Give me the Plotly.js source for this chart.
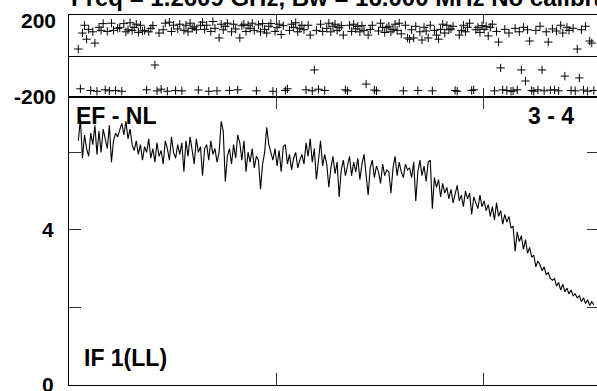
<!DOCTYPE html>
<html><head><meta charset="utf-8">
<script src="https://cdn.plot.ly/plotly-3.0.1.min.js"></script>
<style>html,body{margin:0;padding:0;overflow:hidden;background:#fff}#chart{width:600px;height:391px}</style>
</head><body><div id="chart"></div>
<script>
// channel grid
const firstChannel = 9;
const channelStep = 2;

// amplitude per channel (every 2nd channel, 9..507)
const amplitude = [
  6.3, 6.85, 5.85, 6.45, 6.1, 5.9, 6.5, 6.2, 6.7, 5.95,
  6.55, 6.0, 6.6, 6.35, 6.1, 6.7, 5.75, 6.3, 6.5, 6.4,
  6.55, 6.75, 6.45, 6.8, 6.35, 6.6, 6.2, 6.05, 6.3, 5.95,
  6.2, 5.8, 6.15, 6.0, 6.35, 5.85, 6.1, 5.75, 6.25, 5.9,
  6.05, 5.7, 6.3, 6.1, 5.8, 6.4, 6.0, 5.85, 6.2, 5.95,
  6.25, 5.5, 6.3, 5.9, 6.4, 6.05, 5.7, 6.35, 6.0, 6.15,
  5.4, 6.1, 6.2, 5.8, 6.3, 5.95, 6.1, 5.75, 6.0, 6.8,
  6.55, 5.25, 5.9, 6.1, 5.7, 6.2, 5.85, 6.45, 6.25, 5.8,
  6.3, 5.5, 6.0, 5.75, 6.1, 5.6, 5.9, 5.8, 5.05, 5.7,
  6.0, 6.65, 6.2, 6.0, 5.8, 6.1, 5.65, 6.05, 5.5, 6.15,
  6.2, 5.7, 5.95, 5.55, 5.85, 6.0, 5.6, 5.8, 5.95, 5.7,
  6.25, 5.9, 6.35, 5.75, 6.1, 5.3, 5.85, 6.3, 5.65, 5.95,
  5.7, 5.1, 5.6, 5.9, 5.45, 5.75, 4.85, 5.55, 5.8, 5.4,
  5.65, 5.9, 5.4, 5.75, 5.5, 5.85, 5.3, 5.7, 5.95, 5.45,
  4.9, 5.6, 5.8, 5.35, 5.65, 5.5, 5.2, 5.7, 5.4, 5.55,
  5.5, 4.95, 5.6, 5.9, 5.4, 5.75, 5.5, 5.35, 5.7, 5.55,
  5.6, 5.35, 5.75, 4.75, 5.5, 5.8, 5.4, 5.65, 5.25, 5.75,
  5.8, 4.55, 5.35, 5.1, 5.3, 4.85, 5.2, 4.95, 5.1, 4.8,
  5.05, 4.7, 4.95, 5.15, 4.75, 4.9, 4.6, 5.0, 4.8, 4.95,
  4.4, 4.85, 4.7, 4.55, 4.9, 4.6, 4.75, 4.5, 4.65, 4.35,
  4.6, 4.25, 4.7, 4.35, 4.5, 4.15, 4.4, 4.2, 4.35, 4.05,
  4.1, 3.45, 3.95, 3.7, 3.85, 3.5, 3.75, 3.4, 3.55, 3.3,
  3.35, 3.05, 3.2, 3.1, 2.95, 3.05, 2.85, 2.9, 2.75, 2.7,
  2.75, 2.55, 2.65, 2.45, 2.6, 2.4, 2.5, 2.35, 2.45, 2.3,
  2.35, 2.25, 2.3, 2.15, 2.25, 2.1, 2.2, 2.05, 2.15, 2.07
];

// phase per channel (degrees), same grid
const phase = [
  34, -160, 112, 150, 82, 130, -168, 118, 63, -172,
  140, 125, 158, -165, 120, -170, 160, 125, -168, 135,
  138, -172, 158, 118, 128, 162, 125, 140, 155, 115,
  150, 122, 125, -165, 118, 135, 148, -44, -170, 112,
  -162, 128, 160, -172, 165, 120, 150, -168, 132, 155,
  -170, 125, 150, 118, 160, 135, 142, 128, -166, 150,
  165, 130, 150, -172, 120, 168, 135, -170, 88, 155,
  128, 145, 160, -168, 118, 155, 132, -165, 88, 148,
  155, 120, 150, 135, 160, 125, -170, 152, 118, 158,
  130, 112, 145, 158, -172, 120, 140, 155, 105, 148,
  -168, -160, 125, 155, 140, 162, 118, 135, 150, 128,
  -165, 150, 102, -170, -68, 125, -162, 155, 120, -168,
  135, 160, 118, 145, 155, 125, 138, 148, 102, -165,
  -170, 150, 120, 155, 132, 145, 118, 148, 125, -137,
  102, 130, 150, -166, -170, 122, 160, 140, 115, 138,
  145, 118, 130, 155, 125, 160, 108, -170, 150, 88,
  82, 128, 88, 145, -168, 118, 78, 140, 122, 88,
  150, -170, 125, 102, 82, 130, 155, 112, 150, 128,
  132, 145, -168, -172, 102, 125, 150, 118, 140, 160,
  -168, -165, 128, 140, 115, 148, 130, 145, 98, 140,
  155, -170, 120, 68, -58, -165, 130, -168, 112, -172,
  -170, 135, -165, 118, -68, 140, -122, 128, 73, -168,
  -172, 125, -165, 145, -68, -170, 118, 68, -166, 132,
  -165, 122, -170, 150, 112, -98, 140, 125, -168, 135,
  -170, 34, -107, 128, -166, 145, -172, 73, 63, -168
];

const channelRange = [0, 512];
const xTickChannels = [200, 400];
const ampRange = [0, 7.43];
const ampTicks = [0, 2, 4, 6];
const ampTickLabels = ['0', '', '4', ''];
const phaseRange = [-200, 200];
const phaseLabelValues = [200, -200];
const phaseLabels = ['200', '-200'];
const titleText = 'Freq = 1.2609 GHz, Bw = 16.000 MHz No calibration';
const baselineText = 'EF - NL';
const antennaText = '3 - 4';
const ifText = 'IF 1(LL)';

const W = 600, H = 391;
const px = v => v / W;
const py = v => 1 - v / H;
const FONT = 'Liberation Sans, Arial, sans-serif';
const bold = (s) => ({family: FONT, size: s, color: '#000', weight: 'bold'});

const traces = [
  {type: 'scatter', mode: 'lines', x0: firstChannel, dx: channelStep, y: amplitude,
   xaxis: 'x', yaxis: 'y', line: {color: '#000', width: 1.1}, hoverinfo: 'skip'},
  {type: 'scatter', mode: 'markers', x0: firstChannel, dx: channelStep, y: phase,
   xaxis: 'x2', yaxis: 'y2',
   marker: {symbol: 'cross-thin', size: 6, color: '#000', line: {color: '#000', width: 1}},
   hoverinfo: 'skip'}
];

const xDomain = [px(69), px(599)];
const axisCommon = {showline: true, linecolor: '#000', linewidth: 1, showgrid: false, zeroline: false,
  ticks: 'inside', tickcolor: '#333', tickwidth: 1, fixedrange: true};

const layout = {
  width: W, height: H,
  margin: {l: 0, r: 0, t: 0, b: 0},
  paper_bgcolor: '#fff', plot_bgcolor: '#fff',
  showlegend: false,
  xaxis: Object.assign({}, axisCommon, {domain: xDomain, range: channelRange, anchor: 'y',
    tickvals: xTickChannels, ticklen: 12, showticklabels: false, mirror: 'ticks'}),
  yaxis: Object.assign({}, axisCommon, {domain: [py(385), py(97)], range: ampRange, anchor: 'x',
    tickvals: ampTicks, ticktext: ampTickLabels, ticklen: 12, mirror: 'ticks',
    tickfont: bold(21), ticklabelstandoff: 10, ticklabeloverflow: 'allow'}),
  xaxis2: Object.assign({}, axisCommon, {domain: xDomain, range: channelRange, anchor: 'y2', matches: 'x',
    tickvals: xTickChannels, ticklen: 9, showticklabels: false, mirror: 'ticks'}),
  yaxis2: Object.assign({}, axisCommon, {domain: [py(97), py(15)], range: phaseRange, anchor: 'x2',
    tickvals: [], showticklabels: false, mirror: true,
    zeroline: true, zerolinecolor: '#000', zerolinewidth: 1}),
  annotations: [
    {text: titleText, xref: 'paper', yref: 'paper', x: px(68.5), y: py(-2.6), xanchor: 'left', yanchor: 'middle',
     showarrow: false, font: bold(24)},
    {text: baselineText, xref: 'paper', yref: 'paper', x: px(73.5), y: py(116), xanchor: 'left', yanchor: 'middle',
     showarrow: false, font: bold(23)},
    {text: antennaText, xref: 'paper', yref: 'paper', x: px(575.5), y: py(116), xanchor: 'right', yanchor: 'middle',
     showarrow: false, font: bold(23)},
    {text: ifText, xref: 'paper', yref: 'paper', x: px(81.5), y: py(357.5), xanchor: 'left', yanchor: 'middle',
     showarrow: false, font: bold(23)},
    {text: phaseLabels[0], xref: 'paper', yref: 'y2', x: px(58), y: phaseLabelValues[0], yshift: -5,
     xanchor: 'right', yanchor: 'middle', showarrow: false, font: bold(21)},
    {text: phaseLabels[1], xref: 'paper', yref: 'y2', x: px(58), y: phaseLabelValues[1], yshift: 1,
     xanchor: 'right', yanchor: 'middle', showarrow: false, font: bold(21)}
  ]
};

Plotly.newPlot('chart', traces, layout, {staticPlot: true, displayModeBar: false});
</script>
</body></html>
